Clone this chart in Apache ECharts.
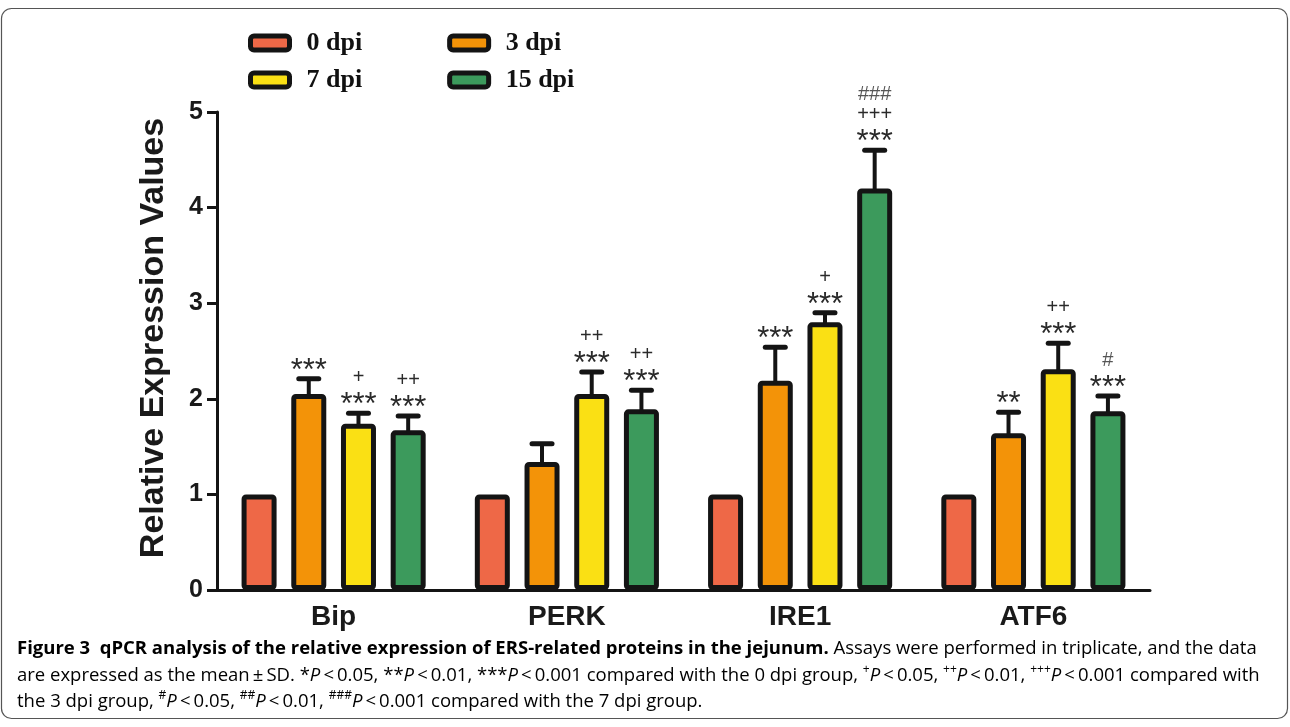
<!DOCTYPE html>
<html>
<head>
<meta charset="utf-8">
<script src="https://cdn.jsdelivr.net/npm/echarts@6/dist/echarts.min.js"></script>
<style>
  html, body { margin: 0; padding: 0; background: #fff; }
  #chart { width: 1290px; height: 727px; }
</style>
</head>
<body>
<div id="chart"></div>
<script>
// data
var categories = ['Bip', 'PERK', 'IRE1', 'ATF6'];
var groupNames = ['0 dpi', '3 dpi', '7 dpi', '15 dpi'];
var dpi0 = [1, 1, 1, 1];
var dpi3 = [2.05, 1.34, 2.19, 1.64];
var dpi7 = [1.74, 2.05, 2.80, 2.31];
var dpi15 = [1.67, 1.89, 4.20, 1.87];
var sd3 = [0.16, 0.19, 0.35, 0.22];
var sd7 = [0.11, 0.23, 0.10, 0.27];
var sd15 = [0.15, 0.20, 0.40, 0.16];
// significance marks, top line first
var marks3 = [['***'], [], ['***'], ['**']];
var marks7 = [['+', '***'], ['++', '***'], ['+', '***'], ['++', '***']];
var marks15 = [['++', '***'], ['++', '***'], ['###', '+++', '***'], ['#', '***']];

var colors = ['#EE6847', '#F39308', '#FAE014', '#3C9A5C'];
var BAR_W = 35;
var BAR_GAP = 0.42;
var STEP = BAR_W * (1 + BAR_GAP);

var chart = echarts.init(document.getElementById('chart'));

function barSeries(idx, values) {
  return {
    name: groupNames[idx],
    type: 'bar',
    data: values,
    barWidth: BAR_W,
    barGap: (BAR_GAP * 100) + '%',
    itemStyle: {
      color: colors[idx],
      borderColor: '#141414',
      borderWidth: 5,
      borderRadius: 2
    },
    emphasis: { disabled: true },
    z: 2
  };
}

// error bar + significance text, placed over bar number idx of each group
function errSeries(idx, means, sds, marks) {
  return {
    type: 'custom',
    name: groupNames[idx] + ' SD',
    silent: true,
    z: 5,
    data: means.map(function (m, i) { return [i, m, sds[i]]; }),
    encode: { x: 0, y: 1 },
    renderItem: function (params, api) {
      var i = api.value(0), m = api.value(1), sd = api.value(2);
      var base = api.coord([i, m]);
      var top = api.coord([i, m + sd]);
      var x = base[0] + (idx - 1.5) * STEP;
      var children = [
        { type: 'line', shape: { x1: x, y1: base[1] + 3, x2: x, y2: top[1] },
          style: { stroke: '#141414', lineWidth: 4 } },
        { type: 'line', shape: { x1: x - 10, y1: top[1], x2: x + 10, y2: top[1] },
          style: { stroke: '#141414', lineWidth: 5, lineCap: 'round' } }
      ];
      var lines = marks[params.dataIndex];
      for (var k = 0; k < lines.length; k++) {
        var t = lines[lines.length - 1 - k];
        var star = t.charAt(0) === '*';
        var cy = top[1] - 15 - k * 20.5;
        children.push({
          type: 'text',
          x: x,
          y: star ? cy + 7.5 : cy,
          style: {
            text: t,
            fontFamily: 'Liberation Sans',
            fontSize: star ? 31 : 20,
            fill: t.charAt(0) === '#' ? '#555' : '#2a2a2a',
            align: 'center',
            verticalAlign: 'middle'
          }
        });
      }
      return { type: 'group', children: children };
    }
  };
}

var legendCommon = {
  orient: 'horizontal',
  padding: 0,
  icon: 'roundRect',
  itemWidth: 39,
  itemHeight: 14,
  itemGap: 85,
  selectedMode: false,
  itemStyle: { borderColor: '#141414', borderWidth: 5 },
  textStyle: {
    fontFamily: 'Liberation Serif',
    fontWeight: 'bold',
    fontSize: 26,
    color: '#111',
    padding: [0, 0, 0, 12]
  }
};

var capNormal = { fontFamily: 'Open Sans', fontSize: 18.5, color: '#222', lineHeight: 24 };
var capRich = {
  n: capNormal,
  b: Object.assign({}, capNormal, { fontWeight: 'bold' }),
  i: Object.assign({}, capNormal, { fontStyle: 'italic' }),
  s: { fontFamily: 'Open Sans', fontSize: 12, color: '#222', lineHeight: 12, verticalAlign: 'top' }
};
var capLines = [
  '{b|Figure 3  qPCR analysis of the relative expression of ERS-related proteins in the jejunum.}{n| Assays were performed in triplicate, and the data}',
  '{n|are expressed as the mean\u2009\u00b1\u2009SD. *}{i|P}{n|\u2009<\u20090.05, **}{i|P}{n|\u2009<\u20090.01, ***}{i|P}{n|\u2009<\u20090.001 compared with the 0 dpi group, }{s|+}{i|P}{n|\u2009<\u20090.05, }{s|++}{i|P}{n|\u2009<\u20090.01, }{s|+++}{i|P}{n|\u2009<\u20090.001 compared with}',
  '{n|the 3 dpi group, }{s|#}{i|P}{n|\u2009<\u20090.05, }{s|##}{i|P}{n|\u2009<\u20090.01, }{s|###}{i|P}{n|\u2009<\u20090.001 compared with the 7 dpi group.}'
];
var capY = [649, 676, 702];

var option = {
  backgroundColor: '#fff',
  animation: false,
  grid: { left: 217, right: 140, top: 112, bottom: 137, containLabel: false, outerBoundsMode: 'none' },
  legend: [
    Object.assign({}, legendCommon, { data: ['0 dpi', '3 dpi'], left: 248, top: 30 }),
    Object.assign({}, legendCommon, { data: ['7 dpi', '15 dpi'], left: 248, top: 67 })
  ],
  xAxis: {
    type: 'category',
    data: categories,
    axisLine: { lineStyle: { color: '#141414', width: 3 } },
    axisTick: { alignWithLabel: true, length: 8, lineStyle: { color: '#141414', width: 3 } },
    axisLabel: { fontFamily: 'Liberation Sans', fontWeight: 'bold', fontSize: 28, color: '#1a1a1a', margin: 13 },
    splitLine: { show: false }
  },
  yAxis: {
    type: 'value',
    min: 0,
    max: 5,
    interval: 1,
    name: 'Relative Expression Values',
    nameLocation: 'middle',
    nameRotate: 90,
    nameGap: 46,
    nameTextStyle: { fontFamily: 'Liberation Sans', fontWeight: 'bold', fontSize: 34, color: '#1a1a1a', padding: [0, 0, 0, 26] },
    axisLine: { show: true, lineStyle: { color: '#141414', width: 3 } },
    axisTick: { show: true, length: 10, lineStyle: { color: '#141414', width: 3 } },
    axisLabel: { fontFamily: 'Liberation Sans', fontWeight: 'bold', fontSize: 25, color: '#1a1a1a', margin: 14 },
    splitLine: { show: false }
  },
  series: [
    barSeries(0, dpi0),
    barSeries(1, dpi3),
    barSeries(2, dpi7),
    barSeries(3, dpi15),
    errSeries(1, dpi3, sd3, marks3),
    errSeries(2, dpi7, sd7, marks7),
    errSeries(3, dpi15, sd15, marks15)
  ],
  graphic: [
    { type: 'rect', silent: true, z: -10,
      shape: { x: 1.5, y: 8.5, width: 1286, height: 710, r: 10 },
      style: { fill: 'none', stroke: '#555', lineWidth: 1.2 } }
  ].concat(capLines.map(function (t, i) {
    return {
      type: 'text', silent: true, x: 17, y: capY[i],
      style: { text: t, rich: capRich, verticalAlign: 'middle' }
    };
  }))
};

chart.setOption(option);
</script>
</body>
</html>
